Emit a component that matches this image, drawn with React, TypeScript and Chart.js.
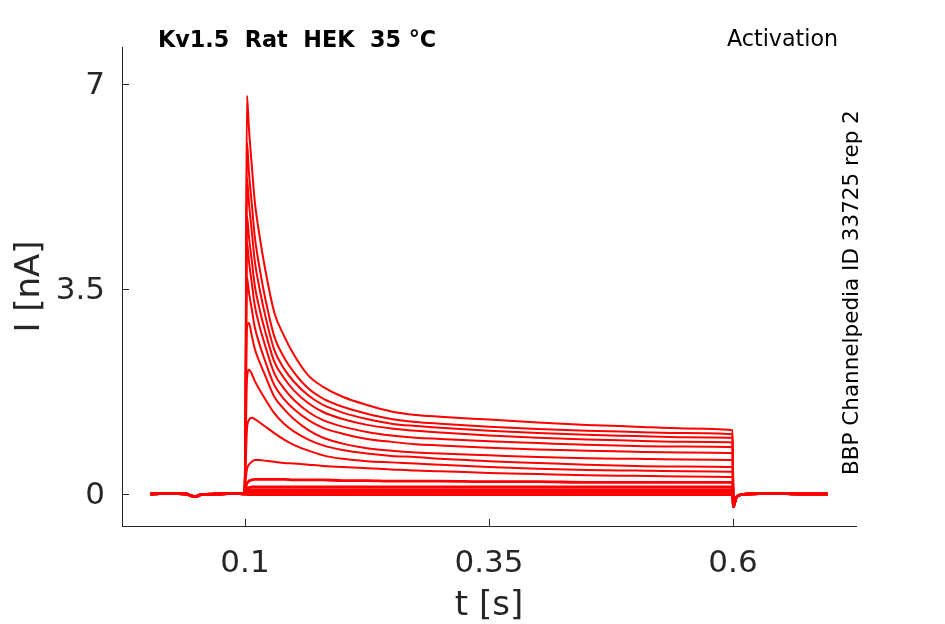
import { useEffect, useRef } from "react";
import { Chart, registerables } from "chart.js";

Chart.register(...registerables);

// ---- text ----
const TITLE = "Kv1.5  Rat  HEK  35 °C";
const PROTOCOL = "Activation";
const SOURCE = "BBP Channelpedia ID 33725 rep 2";
const X_TITLE = "t [s]";
const Y_TITLE = "I [nA]";

// ---- axes ----
const X_TICKS = [0.1, 0.35, 0.6];
const X_TICK_LABELS = ["0.1", "0.35", "0.6"];
const Y_TICKS = [0, 3.5, 7];
const Y_TICK_LABELS = ["0", "3.5", "7"];
const X_RANGE = [-0.026, 0.726];
const Y_RANGE = [-0.546, 7.63];

// ---- time bases (s) ----
const PRE_T = [0.003, 0.02, 0.04, 0.045, 0.05, 0.055, 0.07, 0.09, 0.0995];
const STEP_T = [0.1005, 0.102, 0.104, 0.107, 0.11, 0.115, 0.12, 0.13, 0.14, 0.15, 0.165, 0.18, 0.2, 0.225, 0.25, 0.275, 0.3, 0.35, 0.4, 0.45, 0.5, 0.55, 0.5995];
const POST_T = [0.6005, 0.6015, 0.603, 0.606, 0.615, 0.64, 0.67, 0.697];

// ---- currents (nA) ----
const PRE_I = [0, 0.01, 0, -0.03, -0.04, -0.01, 0, 0.01, 0];
const POST_I = [-0.22, -0.16, -0.07, -0.02, 0, 0.01, 0, 0];

const STEP_A = [1.5, 6.8, 6.25, 5.6, 5.0, 4.4, 3.9, 3.1, 2.7, 2.38, 2.02, 1.83, 1.66, 1.52, 1.41, 1.35, 1.32, 1.27, 1.22, 1.18, 1.15, 1.12, 1.09];
const STEP_B = [1.3, 6.0, 5.5, 4.95, 4.4, 3.85, 3.4, 2.69, 2.33, 2.08, 1.8, 1.63, 1.49, 1.37, 1.28, 1.23, 1.2, 1.15, 1.11, 1.08, 1.06, 1.04, 1.02];
const STEP_C = [1.2, 5.4, 4.98, 4.48, 3.98, 3.5, 3.1, 2.46, 2.14, 1.92, 1.68, 1.52, 1.39, 1.28, 1.2, 1.16, 1.13, 1.08, 1.04, 1.01, 0.99, 0.97, 0.96];
const STEP_D = [1.1, 4.75, 4.4, 3.98, 3.56, 3.15, 2.82, 2.26, 1.98, 1.77, 1.55, 1.4, 1.28, 1.18, 1.12, 1.08, 1.05, 1.0, 0.96, 0.93, 0.91, 0.89, 0.88];
const STEP_E = [1.0, 4.3, 3.98, 3.6, 3.22, 2.86, 2.57, 2.06, 1.8, 1.61, 1.4, 1.26, 1.15, 1.06, 1.0, 0.96, 0.94, 0.9, 0.87, 0.84, 0.82, 0.81, 0.8];
const STEP_F = [0.9, 3.7, 3.45, 3.15, 2.85, 2.55, 2.3, 1.86, 1.62, 1.45, 1.26, 1.13, 1.03, 0.94, 0.89, 0.85, 0.83, 0.79, 0.76, 0.74, 0.72, 0.71, 0.7];
const STEP_G = [0.8, 2.85, 2.92, 2.7, 2.48, 2.25, 2.05, 1.66, 1.45, 1.28, 1.09, 0.96, 0.86, 0.78, 0.74, 0.71, 0.69, 0.66, 0.63, 0.61, 0.6, 0.59, 0.58];
const STEP_H = [0.6, 1.95, 2.12, 2.05, 1.93, 1.78, 1.64, 1.38, 1.2, 1.07, 0.93, 0.83, 0.75, 0.69, 0.65, 0.63, 0.6, 0.56, 0.53, 0.5, 0.48, 0.47, 0.46];
const STEP_I = [0.4, 1.1, 1.26, 1.3, 1.28, 1.22, 1.16, 1.04, 0.93, 0.84, 0.74, 0.66, 0.6, 0.56, 0.54, 0.52, 0.5, 0.46, 0.43, 0.41, 0.4, 0.39, 0.38];
const STEP_J = [0.2, 0.42, 0.5, 0.55, 0.58, 0.58, 0.57, 0.55, 0.53, 0.52, 0.5, 0.48, 0.46, 0.44, 0.42, 0.4, 0.39, 0.36, 0.34, 0.32, 0.31, 0.3, 0.29];
const STEP_K = [0.1, 0.18, 0.22, 0.24, 0.25, 0.25, 0.25, 0.25, 0.25, 0.24, 0.24, 0.24, 0.23, 0.23, 0.22, 0.22, 0.22, 0.21, 0.21, 0.2, 0.2, 0.2, 0.2];
const STEP_L = [0.05, 0.1, 0.11, 0.12, 0.12, 0.12, 0.12, 0.12, 0.12, 0.12, 0.12, 0.12, 0.12, 0.12, 0.12, 0.12, 0.12, 0.12, 0.12, 0.12, 0.12, 0.12, 0.12];
const STEP_M = [0.03, 0.06, 0.07, 0.07, 0.07, 0.07, 0.07, 0.07, 0.07, 0.07, 0.07, 0.07, 0.07, 0.07, 0.07, 0.07, 0.07, 0.07, 0.07, 0.07, 0.07, 0.07, 0.07];
const STEP_N = [0.01, 0.03, 0.03, 0.03, 0.03, 0.03, 0.03, 0.03, 0.03, 0.03, 0.03, 0.03, 0.03, 0.03, 0.03, 0.03, 0.03, 0.03, 0.03, 0.03, 0.03, 0.03, 0.03];
const STEP_O = [0, -0.01, -0.01, -0.01, -0.01, -0.01, -0.01, -0.01, -0.01, -0.01, -0.01, -0.01, -0.01, -0.01, -0.01, -0.01, -0.01, -0.01, -0.01, -0.01, -0.01, -0.01, -0.01];

const TRACES = [STEP_O, STEP_N, STEP_M, STEP_L, STEP_K, STEP_J, STEP_I, STEP_H, STEP_G, STEP_F, STEP_E, STEP_D, STEP_C, STEP_B, STEP_A];

const FONT = '"DejaVu Sans"';
const AXIS_COLOR = "#262626";
const TRACE_COLOR = "#ff0000";

export default function App() {
  const ref = useRef<HTMLCanvasElement>(null);

  useEffect(() => {
    if (!ref.current) return;

    const datasets = TRACES.map((step, k) => ({
      data: [
        ...PRE_T.map((t, j) => ({ x: t, y: PRE_I[j] })),
        ...STEP_T.map((t, j) => ({ x: t, y: step[j] })),
        ...POST_T.map((t, j) => ({ x: t, y: POST_I[j] })),
      ],
      borderColor: TRACE_COLOR,
      backgroundColor: TRACE_COLOR,
      borderWidth: k < 5 ? 2.8 : 2,
      pointRadius: 0,
      fill: false,
      cubicInterpolationMode: "monotone" as const,
    }));

    const decor = {
      id: "decor",
      afterDraw(chart: any) {
        const { ctx, chartArea: ca, scales } = chart;
        const xs = scales.x;
        const ys = scales.y;
        ctx.save();
        ctx.strokeStyle = AXIS_COLOR;
        ctx.lineWidth = 1;
        ctx.beginPath();
        X_TICKS.forEach((v) => {
          const px = Math.round(xs.getPixelForValue(v)) + 0.5;
          ctx.moveTo(px, ca.bottom);
          ctx.lineTo(px, ca.bottom - 7);
        });
        Y_TICKS.forEach((v) => {
          const py = Math.round(ys.getPixelForValue(v)) + 0.5;
          ctx.moveTo(ca.left, py);
          ctx.lineTo(ca.left + 7, py);
        });
        ctx.stroke();

        ctx.fillStyle = "#000000";
        ctx.textAlign = "left";
        ctx.textBaseline = "alphabetic";
        ctx.font = `bold 22.3px ${FONT}`;
        ctx.fillText(TITLE, 158, 47);
        ctx.font = `22.2px ${FONT}`;
        ctx.fillText(PROTOCOL, 727, 46);
        ctx.translate(858, 475);
        ctx.rotate(-Math.PI / 2);
        ctx.font = `21.5px ${FONT}`;
        ctx.fillText(SOURCE, 0, 0);
        ctx.restore();
      },
    };

    const chart = new Chart(ref.current, {
      type: "line",
      data: { datasets },
      options: {
        animation: false,
        responsive: false,
        devicePixelRatio: 1,
        layout: { padding: { left: 8, top: 47, right: 89, bottom: 0 } },
        plugins: { legend: { display: false }, tooltip: { enabled: false } },
        scales: {
          x: {
            type: "linear",
            min: X_RANGE[0],
            max: X_RANGE[1],
            afterBuildTicks: (s: any) => {
              s.ticks = X_TICKS.map((v) => ({ value: v }));
            },
            afterFit: (s: any) => {
              s.height = 98;
            },
            grid: { display: false, drawTicks: false },
            border: { display: true, color: AXIS_COLOR, width: 1 },
            ticks: {
              callback: (_v: any, i: number) => X_TICK_LABELS[i],
              color: AXIS_COLOR,
              font: { family: FONT, size: 31 },
              padding: 19,
              maxRotation: 0,
              autoSkip: false,
            },
            title: {
              display: true,
              text: X_TITLE,
              color: AXIS_COLOR,
              font: { family: FONT, size: 34, lineHeight: 1 },
              padding: { top: 0, bottom: 1 },
            },
          },
          y: {
            type: "linear",
            min: Y_RANGE[0],
            max: Y_RANGE[1],
            afterBuildTicks: (s: any) => {
              s.ticks = Y_TICKS.map((v) => ({ value: v }));
            },
            afterFit: (s: any) => {
              s.width = 114;
            },
            grid: { display: false, drawTicks: false },
            border: { display: true, color: AXIS_COLOR, width: 1 },
            ticks: {
              callback: (_v: any, i: number) => Y_TICK_LABELS[i],
              color: AXIS_COLOR,
              font: { family: FONT, size: 31 },
              padding: 17,
              labelOffset: 2,
              autoSkip: false,
            },
            title: {
              display: true,
              text: Y_TITLE,
              color: AXIS_COLOR,
              font: { family: FONT, size: 34, lineHeight: 1 },
              padding: { top: 5, bottom: 0 },
            },
          },
        },
      },
      plugins: [decor],
    });

    return () => chart.destroy();
  }, []);

  return (
    <div style={{ position: "fixed", left: 0, top: 0, width: 945, height: 624, background: "#ffffff" }}>
      <canvas ref={ref} width={945} height={624} style={{ width: 945, height: 624, display: "block" }} />
    </div>
  );
}
